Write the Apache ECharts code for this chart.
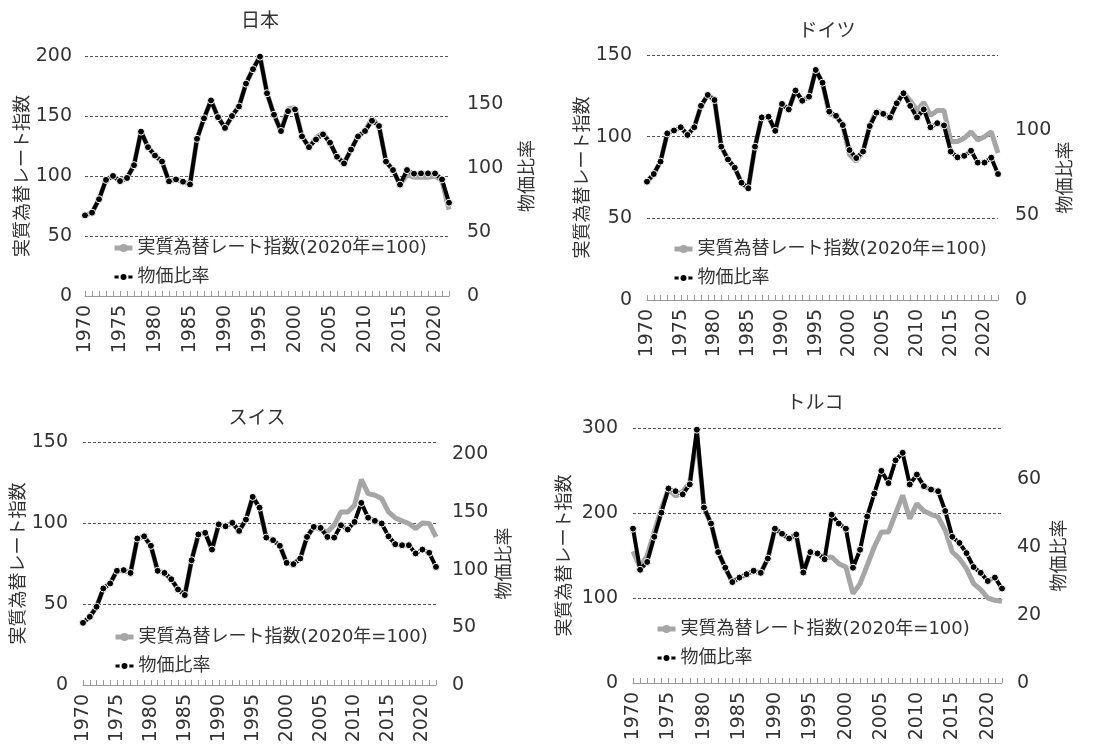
<!DOCTYPE html>
<html><head><meta charset="utf-8">
<script src="https://cdn.jsdelivr.net/npm/echarts@6/dist/echarts.min.js"></script>
<style>html,body{margin:0;padding:0;background:#fff}#c{width:1100px;height:749px}</style>
</head><body><div id="c"></div>
<script>
const years = ['1970','1971','1972','1973','1974','1975','1976','1977','1978','1979',
 '1980','1981','1982','1983','1984','1985','1986','1987','1988','1989',
 '1990','1991','1992','1993','1994','1995','1996','1997','1998','1999',
 '2000','2001','2002','2003','2004','2005','2006','2007','2008','2009',
 '2010','2011','2012','2013','2014','2015','2016','2017','2018','2019',
 '2020','2021','2022'];
const xTickLabels = ['1970','1975','1980','1985','1990','1995','2000','2005','2010','2015','2020'];

const seriesNames = ['実質為替レート指数(2020年=100)', '物価比率'];
const leftAxisName = '実質為替レート指数';
const rightAxisName = '物価比率';
const panelTitles = ['日本', 'ドイツ', 'スイス', 'トルコ'];

// 日本
const jpRate = [67.2,69.4,80.6,96.7,100,95.8,98.3,109,137,124,
 117,112,95.6,97.2,95.3,93,131,148,163,149,
 140,150,158,177,189,200,169,151,137.5,156,
 157,133,124,132,136,127.8,116,110.5,122,133,
 137.5,148,141.7,112,105,92.8,101,99,99,99,
 100,96,72];
const jpPrice = [63.0,65.1,75.6,90.7,93.8,89.8,92.2,102.2,128.4,116.3,
 109.7,105.0,89.6,91.1,89.3,87.2,122.8,138.8,152.8,139.7,
 131.3,140.6,148.1,165.9,177.2,187.0,158.4,141.6,128.9,144.4,
 145.8,124.7,116.3,122.3,126.3,119.8,108.8,103.6,114.4,124.7,
 128.9,136.9,132.8,105.0,98.4,87.0,98.4,95.6,95.8,95.8,
 95.8,91.1,72.9];
// ドイツ
const deRate = [72.4,77.1,84.7,102,103.7,105.7,101,105.7,118.8,125.5,
 122.4,93.9,86.1,81,71.8,68.4,93.9,111.8,112.2,103.5,
 120,116.7,128.2,122,124.5,140.8,133,114,112.7,107.1,
 89,85,90.8,106.5,116,113.9,111.8,120.4,127,122,
 116,121,113,116,116,97,97,99,103,98,
 100,103,90];
const dePrice = [69.6,74.1,81.4,98.0,99.7,101.6,97.1,101.6,114.2,120.6,
 117.6,90.2,82.7,77.8,69.0,65.7,90.2,107.4,107.8,99.5,
 115.3,112.1,123.2,117.2,119.6,135.3,127.8,110.8,108.3,102.9,
 88.2,83.5,87.3,102.3,110.2,109.5,107.4,115.7,121.6,114.2,
 107.4,112.1,101.6,104.0,102.7,87.3,83.9,84.8,87.8,80.8,
 80.8,83.7,74.1];
// スイス
const chRate = [38.4,42.1,48.3,59.6,62.7,70.5,70.9,69.2,90.4,91.8,
 85.9,70.5,69.2,65.3,59,55.5,77,92.9,93.9,83.6,
 99.2,98,100.1,95.1,102.1,116.1,109.5,91,89.4,85.9,
 75.4,74.6,78.1,91.4,97.6,96,94.5,98.6,106.8,106.8,
 111,126.8,118.1,117.1,115.1,106.8,103.1,101.3,99.7,96.6,
 100,99.7,91.4];
const chPrice = [53.9,59.1,67.8,83.7,88.1,99.0,99.6,97.2,127.0,128.9,
 120.7,99.0,97.2,91.7,82.9,78.0,108.2,130.5,131.9,117.4,
 139.3,137.6,140.6,133.6,143.4,163.1,153.8,127.8,125.6,120.7,
 105.9,104.8,109.7,128.4,137.1,136.2,128.4,127.8,138.5,134.8,
 141.4,157.9,145.1,142.3,140.0,128.9,122.1,121.2,121.2,114.1,
 117.4,114.6,102.4];
// トルコ
const trRate = [155,136,150,178,205,228,220,225,236,290,
 206.3,187.5,154.1,135.7,118.8,123.9,127.8,131.8,129.4,146.3,
 181.6,175.7,169.8,174.9,129.8,154.1,152.2,147,148.2,140.4,
 136.5,105.1,116.9,138.4,160,177.6,177.6,199.2,220.8,193.3,
 211,202.4,198.4,195.3,179.6,154.1,146.3,134.5,116.9,109.8,
 100,97.3,96];
const trPrice = [45.4,33.3,35.6,43.0,50.1,57.2,56.4,55.5,58.4,74.5,
 51.6,46.9,38.5,33.9,29.7,31.0,32.0,33.0,32.4,36.6,
 45.4,43.9,42.5,43.7,32.5,38.5,38.1,36.4,49.5,46.9,
 45.4,33.9,39.2,49.0,55.7,62.4,58.8,65.5,67.7,58.4,
 61.3,57.9,56.9,56.4,50.6,43.0,41.2,38.2,34.1,32.4,
 30.0,31.0,27.8];

const FONT = "'DejaVu Sans','Noto Sans CJK JP',sans-serif";
const TXT = '#333';

const panels = [
  {title: panelTitles[0], rate: jpRate, price: jpPrice,
   grid: {left: 85, top: 56, width: 364, height: 240}, tx: 260, ty: 13,
   lmax: 200, lint: 50, rmax: 187.5, rint: 50, lm: 13, rm: 18, lg: 53, rg: 70,
   legX: 112, legY: 239},
  {title: panelTitles[1], rate: deRate, price: dePrice,
   grid: {left: 647, top: 55, width: 351, height: 245}, tx: 827, ty: 23,
   lmax: 150, lint: 50, rmax: 144.1, rint: 50, lm: 15, rm: 17, lg: 55, rg: 59,
   legX: 672, legY: 240},
  {title: panelTitles[2], rate: chRate, price: chPrice,
   grid: {left: 83, top: 442, width: 353, height: 243}, tx: 257, ty: 410,
   lmax: 150, lint: 50, rmax: 210.7, rint: 50, lm: 15, rm: 16, lg: 54, rg: 60,
   legX: 113, legY: 628},
  {title: panelTitles[3], rate: trRate, price: trPrice,
   grid: {left: 633, top: 428, width: 369, height: 255}, tx: 815, ty: 395,
   lmax: 300, lint: 100, rmax: 75, rint: 20, lm: 15, rm: 15, lg: 59, rg: 49,
   legX: 655, legY: 620}
];

const option = {
  animation: false,
  backgroundColor: '#fff',
  textStyle: {fontFamily: FONT},
  title: [], legend: [], grid: [], xAxis: [], yAxis: [], series: []
};

// Year labels placed through the category axis scale; the 90° turn is
// made of two 45° turns (a turned group holding a turned text).
function yearLabelRenderer(params, api) {
  const pt = api.coord([api.value(0), 0]);
  return {
    type: 'group', x: pt[0], y: pt[1] + 9, rotation: Math.PI / 4, silent: true,
    children: [{
      type: 'text', x: 0, y: 0, rotation: Math.PI / 4, silent: true,
      style: {text: xTickLabels[params.dataIndex], align: 'right', verticalAlign: 'middle',
        fontSize: 19, fontFamily: FONT, fill: TXT}
    }]
  };
}

panels.forEach((p, i) => {
  option.title.push({text: p.title, left: p.tx, top: p.ty, textAlign: 'center', padding: 0,
    textStyle: {fontSize: 19, fontWeight: 'normal', color: TXT, fontFamily: FONT}});
  option.grid.push(Object.assign({containLabel: false}, p.grid));
  option.legend.push({
    left: p.legX, top: p.legY, orient: 'vertical', padding: 0, itemGap: 11,
    itemWidth: 18, itemHeight: 10, selectedMode: false,
    textStyle: {fontSize: 18, color: TXT, fontFamily: FONT, lineHeight: 18},
    data: [{name: seriesNames[0], lineStyle: {width: 5}},
           {name: seriesNames[1], lineStyle: {width: 3}}]
  });
  option.xAxis.push({
    type: 'category', gridIndex: i, data: years, boundaryGap: false,
    axisLine: {lineStyle: {color: '#999', width: 1}},
    axisTick: {show: true, inside: true, length: 5, interval: 0, lineStyle: {color: '#999'}},
    axisLabel: {show: false},
    splitLine: {show: false}
  });
  option.yAxis.push({
    type: 'value', gridIndex: i, position: 'left', min: 0, max: p.lmax, interval: p.lint,
    axisLine: {show: false}, axisTick: {show: false},
    axisLabel: {fontSize: 19, color: TXT, margin: p.lm, fontFamily: FONT},
    splitLine: {show: true, lineStyle: {type: [3, 2], width: 1,
      color: ['rgba(0,0,0,0)', '#555', '#555', '#555', '#555', '#555']}},
    name: leftAxisName, nameLocation: 'middle', nameGap: p.lg, nameRotate: 90,
    nameTextStyle: {fontSize: 18, color: TXT, fontFamily: FONT}
  });
  const rint = p.rint;
  option.yAxis.push({
    type: 'value', gridIndex: i, position: 'right', min: 0, max: p.rmax, interval: rint,
    axisLine: {show: false}, axisTick: {show: false}, splitLine: {show: false},
    axisLabel: {fontSize: 19, color: TXT, margin: p.rm, fontFamily: FONT,
      formatter: v => (Math.abs(v / rint - Math.round(v / rint)) < 1e-6 ? String(v) : '')},
    name: rightAxisName, nameLocation: 'middle', nameGap: p.rg, nameRotate: 90,
    nameTextStyle: {fontSize: 18, color: TXT, fontFamily: FONT}
  });
  option.series.push({
    type: 'line', name: seriesNames[0], xAxisIndex: i, yAxisIndex: 2 * i,
    data: p.rate, symbol: 'none', z: 2,
    lineStyle: {color: '#a6a6a6', width: 5}, itemStyle: {color: '#a6a6a6'}
  });
  option.series.push({
    type: 'line', name: seriesNames[1], xAxisIndex: i, yAxisIndex: 2 * i + 1,
    data: p.price, symbol: 'circle', symbolSize: 7, showAllSymbol: true, z: 3,
    lineStyle: {color: '#000', width: 4},
    itemStyle: {color: '#000', borderColor: '#fff', borderWidth: 1}
  });
  option.series.push({
    type: 'custom', name: 'yearLabels' + i, xAxisIndex: i, yAxisIndex: 2 * i,
    data: xTickLabels.map(y => [y, 0]), renderItem: yearLabelRenderer,
    clip: false, silent: true, z: 5
  });
});

const chart = echarts.init(document.getElementById('c'), null, {renderer: 'canvas'});
chart.setOption(option);
</script>
</body></html>
